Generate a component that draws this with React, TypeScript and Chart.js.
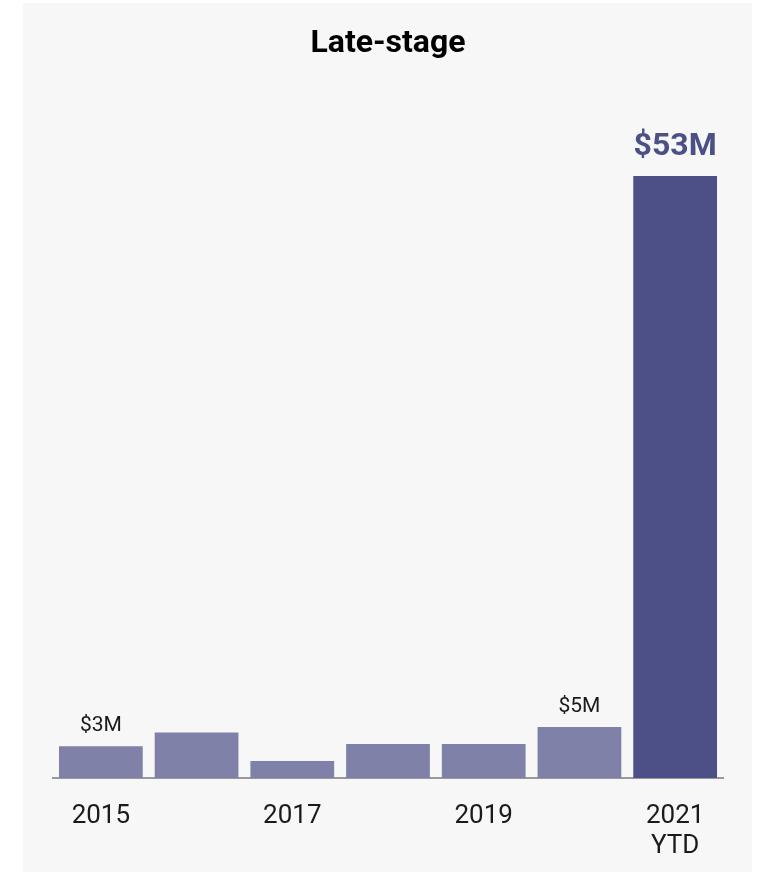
import React, { useEffect, useRef } from "react";
import { Chart, registerables } from "chart.js";

Chart.register(...registerables);

const categories: (string | string[])[] = ["2015", "", "2017", "", "2019", "", ["2021", "YTD"]];
const funding: number[] = [2.8, 4.0, 1.5, 3.0, 3.0, 4.5, 53];
const valueLabels: string[] = ["$3M", "", "", "", "", "$5M", "$53M"];
const highlighted: boolean[] = [false, false, false, false, false, false, true];
const chartTitle = "Late-stage";

const LIGHT = "#8081a8";
const DARK = "#4d5086";

const labelPlugin = {
  id: "valueLabels",
  afterDatasetsDraw(chart: any) {
    const ctx = chart.ctx;
    const meta = chart.getDatasetMeta(0);
    ctx.save();
    ctx.textAlign = "center";
    ctx.textBaseline = "alphabetic";
    meta.data.forEach((bar: any, i: number) => {
      const text = valueLabels[i];
      if (!text) return;
      if (highlighted[i]) {
        ctx.font = "bold 32px Roboto";
        ctx.fillStyle = DARK;
        ctx.fillText(text, bar.x, bar.y - 21);
      } else {
        ctx.font = "21px Roboto";
        ctx.fillStyle = "#1a1a1a";
        ctx.fillText(text, bar.x, bar.y - 15);
      }
    });
    ctx.restore();
  },
};

export default function App() {
  const ref = useRef<HTMLCanvasElement>(null);
  useEffect(() => {
    if (!ref.current) return;
    const chart = new Chart(ref.current, {
      type: "bar",
      data: {
        labels: categories,
        datasets: [
          {
            data: funding,
            backgroundColor: highlighted.map((h) => (h ? DARK : LIGHT)),
            barPercentage: 0.875,
            categoryPercentage: 1,
          },
        ],
      },
      options: {
        animation: false,
        responsive: true,
        maintainAspectRatio: false,
        layout: { padding: { left: 30, right: 29, top: 0, bottom: -12 } },
        plugins: {
          legend: { display: false },
          tooltip: { enabled: false },
          title: {
            display: true,
            text: chartTitle,
            color: "#000",
            font: { family: "Roboto", size: 32, weight: "bold", lineHeight: 1.2 },
            padding: { top: 22, bottom: 33 },
          },
        },
        scales: {
          x: {
            grid: { display: false, drawTicks: false },
            border: { display: true, color: "#999999", width: 2 },
            ticks: {
              color: "#1a1a1a",
              font: { family: "Roboto", size: 26, lineHeight: 30 / 26 },
              padding: 23,
              autoSkip: false,
              maxRotation: 0,
            },
          },
          y: {
            display: false,
            min: 0,
            max: 60,
          },
        },
      },
      plugins: [labelPlugin],
    });
    return () => chart.destroy();
  }, []);
  return (
    <div
      style={{
        position: "absolute",
        left: 23,
        top: 3,
        width: 729,
        height: 869,
        background: "#f7f7f7",
      }}
    >
      <canvas ref={ref} />
    </div>
  );
}
